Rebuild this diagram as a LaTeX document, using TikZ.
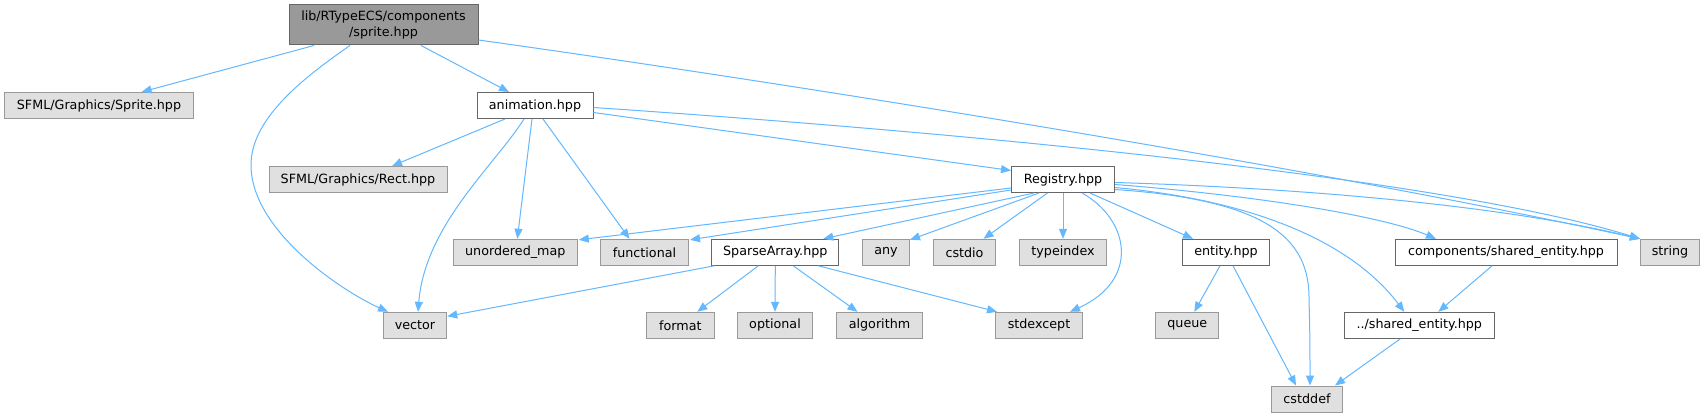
\documentclass[tikz,border=0pt]{standalone}
\usepackage{fontspec}
\setmainfont{DejaVu Sans}
\usetikzlibrary{arrows.meta,calc}
\definecolor{edgeblue}{HTML}{63B8FF}
\definecolor{extfill}{HTML}{E0E0E0}
\definecolor{extdraw}{HTML}{999999}
\definecolor{intdraw}{HTML}{666666}
\definecolor{rootfill}{HTML}{999999}
\begin{document}
\begin{tikzpicture}[x=0.75pt,y=-0.75pt,
  base/.style={rectangle, line width=0.75pt, inner sep=0pt, minimum height=26*0.75pt,
    font=\fontsize{9.54}{11.7}\selectfont, text=black},
  bw/.style={minimum width=#1*0.75pt},
  ext/.style={base, draw=extdraw, fill=extfill},
  intl/.style={base, draw=intdraw, fill=white},
  rootn/.style={base, draw=intdraw, fill=rootfill, align=center, minimum height=40*0.75pt},
  conn/.style={draw=edgeblue, line width=0.75pt, -{Triangle[length=7.5pt,width=6pt]}}]
\useasboundingbox[fill=white] (0,0) rectangle (1705,417);

\node[rootn, bw=189] (root) at (383.5,25) {lib/RTypeECS/components\\/sprite.hpp};
\node[ext, bw=189] (sfsprite) at (99,105.5) {SFML/Graphics/Sprite.hpp};
\node[intl, bw=116] (anim) at (535,105.5) {animation.hpp};
\node[ext, bw=178] (rect) at (358,179.5) {SFML/Graphics/Rect.hpp};
\node[intl, bw=103] (reg) at (1063,179.5) {Registry.hpp};
\node[ext, bw=124] (umap) at (515.3,252.3) {unordered\_map};
\node[ext, bw=88] (func) at (644.5,252.3) {functional};
\node[intl, bw=127] (sparse) at (775.3,252.3) {SparseArray.hpp};
\node[ext, bw=47] (any) at (886,252.3) {any};
\node[ext, bw=62.5] (cstdio) at (964.5,252.3) {cstdio};
\node[ext, bw=87] (typeidx) at (1063,252.3) {typeindex};
\node[intl, bw=87] (entity) at (1226,252.3) {entity.hpp};
\node[intl, bw=222] (cshared) at (1506,252.3) {components/shared\_entity.hpp};
\node[ext, bw=59] (string) at (1670,252.3) {string};
\node[ext, bw=63.5] (vector) at (415,325.3) {vector};
\node[ext, bw=67.5] (format) at (680.3,325.3) {format};
\node[ext, bw=75.5] (optional) at (775,325.3) {optional};
\node[ext, bw=85.7] (algo) at (879.5,325.3) {algorithm};
\node[ext, bw=87] (stdexc) at (1039,325.3) {stdexcept};
\node[ext, bw=63.3] (queue) at (1187.3,325.3) {queue};
\node[intl, bw=150] (shared) at (1419.3,325.3) {../shared\_entity.hpp};
\node[ext, bw=71] (cstddef) at (1307,399) {cstddef};

% root
\draw[conn] ($(root.south)+(-69.5,0)$) -- ($(sfsprite.north)+(42.6,0)$);
\draw[conn] ($(root.south)+(-33.5,0)$) .. controls (300,80) and (251,120) .. (251,165)
   .. controls (251,230) and (340,290) .. ($(vector.north)+(-27,0)$);
\draw[conn] ($(root.south)+(37.5,0)$) -- ($(anim.north)+(-26,0)$);
\draw[conn] ($(root.east)+(0,15)$) .. controls (800,85) and (1300,165) .. (string.north west);
% animation
\draw[conn] ($(anim.south)+(-30,0)$) -- ($(rect.north)+(34,0)$);
\draw[conn] ($(anim.south)+(-3,0)$) -- ($(umap.north)+(2,0)$);
\draw[conn] ($(anim.south)+(8,0)$) -- ($(func.north)+(-15,0)$);
\draw[conn] ($(anim.south)+(-11,0)$) .. controls (495,165) and (425,225) .. ($(vector.north)+(3,0)$);
\draw[conn] ($(anim.east)+(0,7)$) -- ($(reg.west)+(0,-9)$);
\draw[conn] ($(anim.east)+(0,2)$) .. controls (1000,135) and (1450,180) .. (string.north west);
% Registry
\draw[conn] ($(reg.south west)+(0,-5)$) -- ($(umap.north east)+(1,1)$);
\draw[conn] ($(reg.south west)+(0,-3)$) -- ($(func.north east)+(1,1)$);
\draw[conn] ($(reg.south)+(-29,0)$) -- ($(sparse.north)+(48,0)$);
\draw[conn] ($(reg.south)+(-24,0)$) -- ($(any.north east)+(0,1)$);
\draw[conn] ($(reg.south)+(-15.5,0)$) -- ($(cstdio.north)+(19,0)$);
\draw[conn] (reg.south) -- (typeidx.north);
\draw[conn] ($(reg.south)+(19,0)$) .. controls (1130,220) and (1140,280) .. ($(stdexc.north)+(31,0)$);
\draw[conn] ($(reg.south)+(27,0)$) -- ($(entity.north)+(-33,0)$);
\draw[conn] ($(reg.east)+(0,10)$) .. controls (1270,200) and (1310,240) .. (1309,300)
   .. controls (1310,330) and (1310,360) .. ($(cstddef.north)+(3,0)$);
\draw[conn] ($(reg.east)+(0,8)$) .. controls (1250,200) and (1350,240) .. ($(shared.north)+(-15,0)$);
\draw[conn] ($(reg.east)+(0,5)$) .. controls (1250,195) and (1380,215) .. ($(cshared.north)+(-70,0)$);
\draw[conn] ($(reg.east)+(0,3)$) .. controls (1300,188) and (1500,205) .. (string.north west);
% SparseArray
\draw[conn] ($(sparse.south west)+(3,0)$) -- ($(vector.east)+(0,-9)$);
\draw[conn] ($(sparse.south)+(-17,0)$) -- ($(format.north)+(17,0)$);
\draw[conn] (sparse.south) -- (optional.north);
\draw[conn] ($(sparse.south)+(18,0)$) -- ($(algo.north)+(-22,0)$);
\draw[conn] ($(sparse.south)+(43,0)$) -- ($(stdexc.north west)+(2,0)$);
% entity and shared
\draw[conn] ($(entity.south)+(-6,0)$) -- ($(queue.north)+(7,0)$);
\draw[conn] ($(entity.south)+(7,0)$) -- ($(cstddef.north)+(-11,0)$);
\draw[conn] ($(cshared.south)+(-14,0)$) -- ($(shared.north)+(19,0)$);
\draw[conn] ($(shared.south)+(-19,0)$) -- ($(cstddef.north)+(28,0)$);
\end{tikzpicture}
\end{document}
